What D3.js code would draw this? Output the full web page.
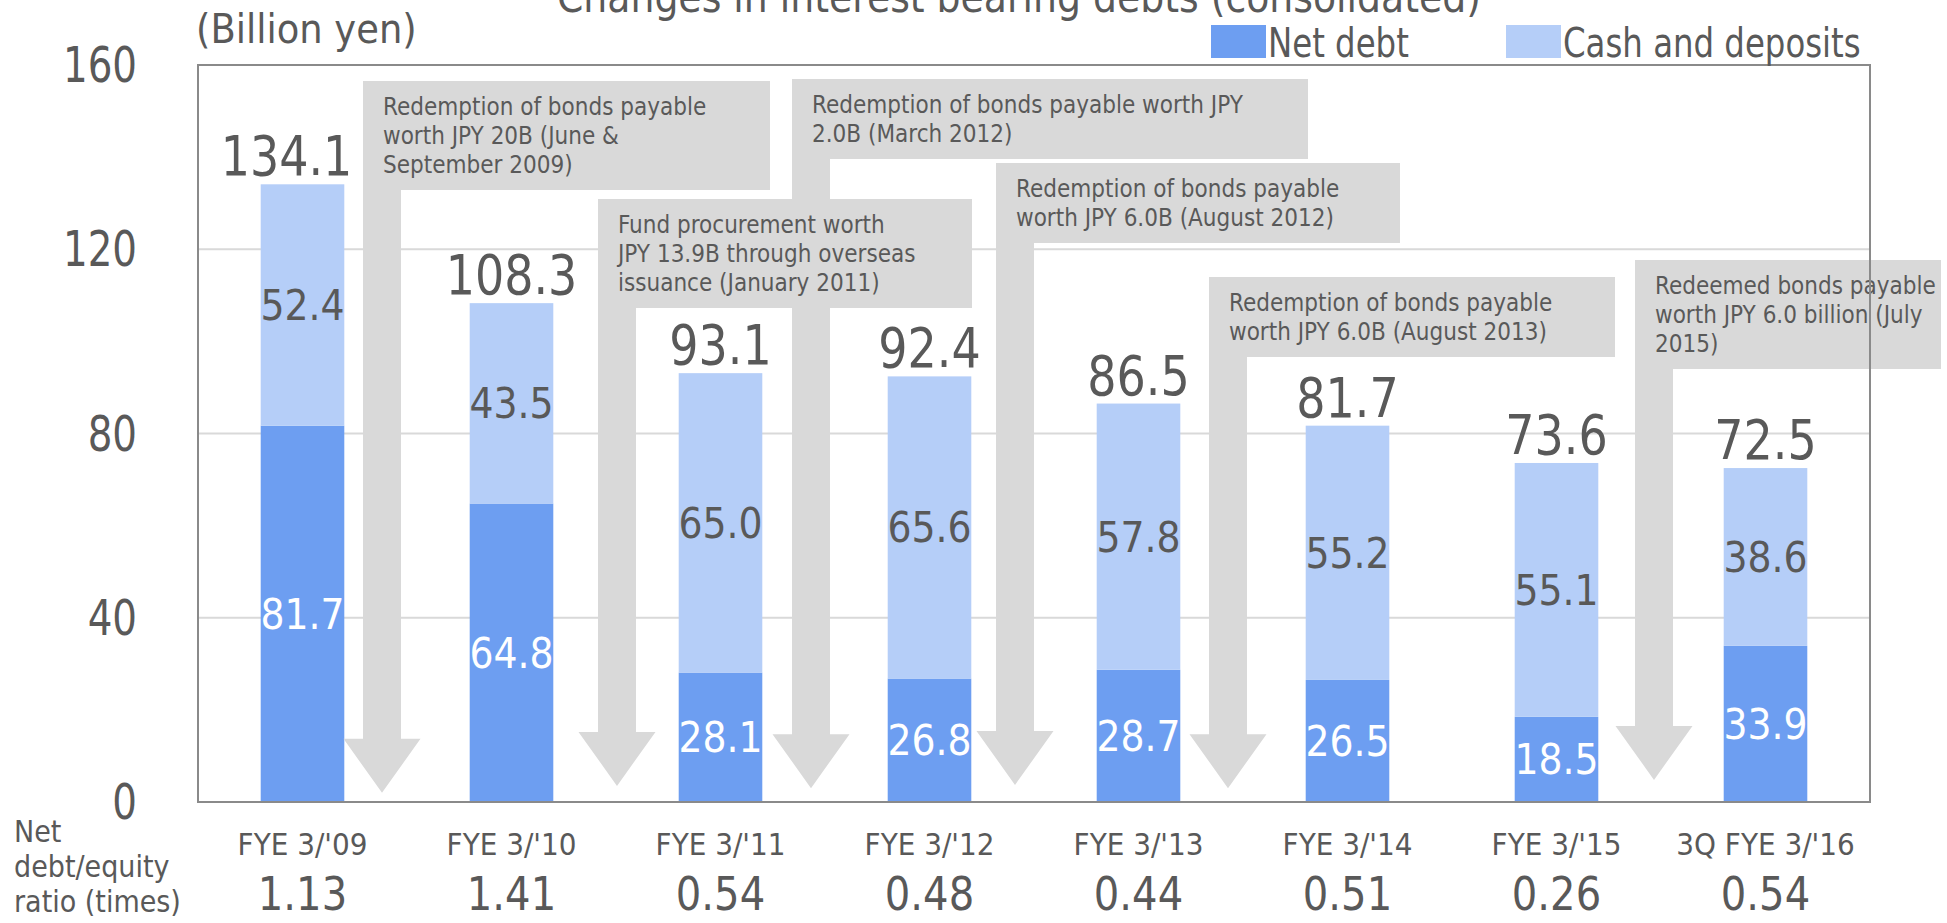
<!DOCTYPE html>
<html>
<head>
<meta charset="utf-8">
<script src="https://cdn.jsdelivr.net/npm/d3@7/dist/d3.min.js"></script>
<style>
  body { margin: 0; background: #fff; }
  svg { display: block; font-family: "DejaVu Sans Condensed", "DejaVu Sans", sans-serif; }
</style>
</head>
<body>
<svg id="chart" width="1947" height="923"></svg>
<script>
// values (billion yen)
const categories = ["FYE 3/'09", "FYE 3/'10", "FYE 3/'11", "FYE 3/'12", "FYE 3/'13", "FYE 3/'14", "FYE 3/'15", "3Q FYE 3/'16"];
const netDebt = [81.7, 64.8, 28.1, 26.8, 28.7, 26.5, 18.5, 33.9];
const cashDeposits = [52.4, 43.5, 65.0, 65.6, 57.8, 55.2, 55.1, 38.6];
const totals = ["134.1", "108.3", "93.1", "92.4", "86.5", "81.7", "73.6", "72.5"];
const ratios = ["1.13", "1.41", "0.54", "0.48", "0.44", "0.51", "0.26", "0.54"];
const yTicks = [0, 40, 80, 120, 160];
const seriesNames = ["Net debt", "Cash and deposits"];
const notes = [
    ["Redemption of bonds payable", "worth JPY 20B (June &", "September 2009)"],
    ["Redemption of bonds payable worth JPY", "2.0B (March 2012)"],
    ["Fund procurement worth", "JPY 13.9B through overseas", "issuance (January 2011)"],
    ["Redemption of bonds payable", "worth JPY 6.0B (August 2012)"],
    ["Redemption of bonds payable", "worth JPY 6.0B (August 2013)"],
    ["Redeemed bonds payable", "worth JPY 6.0 billion (July", "2015)"]
];

// callout layout: gap after which bar, shaft offset from gap (px), box top, box width, tip value
const noteLayout = [
    { after: 0, dx: -25, top: 81, width: 407, tip: 2.0 },
    { after: 2, dx: -14, top: 79, width: 516, tip: 3.0 },
    { after: 1, dx: 1, top: 199, width: 374, tip: 3.5 },
    { after: 3, dx: -19, top: 163, width: 404, tip: 3.7 },
    { after: 4, dx: -15, top: 277, width: 406, tip: 3.0 },
    { after: 6, dx: -7, top: 260, width: 306, tip: 4.8 }
];
// the first total sits a little left so the callout does not cover it
const totalShift = [-16, 0, 0, 0, 0, 0, 0, 0];

const colors = { net: "#6d9ef1", cash: "#b5cef8", note: "#d9d9d9", text: "#595959", frame: "#8a8a8a", grid: "#d9d9d9" };
const plot = { left: 198, right: 1870, top: 65, bottom: 802 };

const svg = d3.select("#chart");

const x = d3.scaleBand()
    .domain(categories)
    .range([plot.left, plot.right])
    .paddingInner(0.6)
    .paddingOuter(0.3);
const y = d3.scaleLinear()
    .domain([0, 160])
    .range([plot.bottom, plot.top]);

// text helper, sx squeezes the glyphs horizontally
function label(parent, px, py, txt, size, anchor, fill, sx) {
    return parent.append("text")
        .attr("transform", "translate(" + px + "," + py + ") scale(" + (sx || 1) + ",1)")
        .attr("text-anchor", anchor)
        .attr("font-size", size)
        .attr("fill", fill || colors.text)
        .text(txt);
}

// gridlines
svg.append("g")
    .selectAll("line")
    .data(yTicks.filter(function (d) { return d > 0 && d < 160; }))
    .enter()
    .append("line")
    .attr("x1", plot.left)
    .attr("x2", plot.right)
    .attr("y1", function (d) { return y(d); })
    .attr("y2", function (d) { return y(d); })
    .attr("stroke", colors.grid)
    .attr("stroke-width", 2);

// y axis labels
const yAxis = svg.append("g");
yTicks.forEach(function (t) {
    label(yAxis, 137, y(t) + 17, t, 49, "end", colors.text, 0.88);
});

// stacked bars
const stack = d3.stack().keys(["net", "cash"]);
const rows = categories.map(function (c, i) { return { cat: c, net: netDebt[i], cash: cashDeposits[i] }; });
const layers = stack(rows);

svg.append("g")
    .selectAll("g")
    .data(layers)
    .enter()
    .append("g")
    .attr("fill", function (d) { return colors[d.key]; })
    .selectAll("rect")
    .data(function (d) { return d; })
    .enter()
    .append("rect")
    .attr("x", function (d) { return x(d.data.cat); })
    .attr("width", x.bandwidth())
    .attr("y", function (d) { return y(d[1]); })
    .attr("height", function (d) { return y(d[0]) - y(d[1]); });

// callouts with down arrows
const shaftW = 38, headW = 77, headH = 54, padTop = 34, lineH = 29;
const notesG = svg.append("g");
noteLayout.forEach(function (n, i) {
    const gap = x(categories[n.after]) + x.bandwidth() + x.step() * x.paddingOuter();
    const cx = gap + n.dx;
    const x0 = cx - shaftW / 2;
    const lines = notes[i];
    const bottom = n.top + padTop + lineH * (lines.length - 1) + 17;
    const tipY = y(n.tip);
    const headTop = tipY - headH;
    const path = d3.path();
    path.moveTo(x0, n.top);
    path.lineTo(x0 + n.width, n.top);
    path.lineTo(x0 + n.width, bottom);
    path.lineTo(x0 + shaftW, bottom);
    path.lineTo(x0 + shaftW, headTop);
    path.lineTo(cx + headW / 2, headTop);
    path.lineTo(cx, tipY);
    path.lineTo(cx - headW / 2, headTop);
    path.lineTo(x0, headTop);
    path.closePath();
    notesG.append("path")
        .attr("d", path.toString())
        .attr("fill", colors.note);
    lines.forEach(function (ln, j) {
        label(notesG, x0 + 20, n.top + padTop + j * lineH, ln, 24, "start");
    });
});

// plot frame
svg.append("rect")
    .attr("x", plot.left)
    .attr("y", plot.top)
    .attr("width", plot.right - plot.left)
    .attr("height", plot.bottom - plot.top)
    .attr("fill", "none")
    .attr("stroke", colors.frame)
    .attr("stroke-width", 2);

// value labels
const vals = svg.append("g");
categories.forEach(function (c, i) {
    const cx = x(c) + x.bandwidth() / 2;
    label(vals, cx, y(netDebt[i] / 2) + 15, netDebt[i].toFixed(1), 42, "middle", "#ffffff", 1);
    label(vals, cx, y(netDebt[i] + cashDeposits[i] / 2) + 15, cashDeposits[i].toFixed(1), 42, "middle", colors.text, 1);
    label(vals, cx + totalShift[i], y(netDebt[i] + cashDeposits[i]) - 9, totals[i], 55, "middle", colors.text, 0.93);
    label(vals, cx, 855, c, 31, "middle");
    label(vals, cx, 910, ratios[i], 46, "middle", colors.text, 0.97);
});

// left footer label
["Net", "debt/equity", "ratio (times)"].forEach(function (t, i) {
    label(svg, 14, 842 + i * 35, t, 30, "start");
});

// titles
label(svg, 1019, 12, "Changes in interest bearing debts (consolidated)", 42, "middle");
label(svg, 196, 43, "(Billion yen)", 41, "start");

// legend
const legend = svg.append("g");
const legendX = [1211, 1506];
seriesNames.forEach(function (s, i) {
    legend.append("rect")
        .attr("x", legendX[i])
        .attr("y", 25)
        .attr("width", 55)
        .attr("height", 33)
        .attr("fill", i === 0 ? colors.net : colors.cash);
    label(legend, legendX[i] + 57, 57, s, 40, "start", colors.text, 0.9);
});
</script>
</body>
</html>
